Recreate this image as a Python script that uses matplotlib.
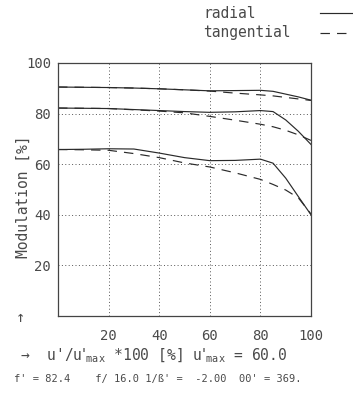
import numpy as np
import matplotlib
matplotlib.use('Agg')
import matplotlib.pyplot as plt

# image height in percent of u'max
x_pos = [0, 10, 20, 30, 40, 50, 60, 70, 80, 85, 90, 95, 100]

# modulation [%], three spatial frequencies
rad_hi = [90.5, 90.4, 90.3, 90.1, 89.8, 89.4, 89.0, 89.1, 89.2, 88.8, 87.7, 86.6, 85.3]
tan_hi = [90.5, 90.4, 90.3, 90.1, 89.8, 89.4, 88.9, 88.1, 87.4, 87.0, 86.4, 85.8, 85.2]
rad_mid = [82.2, 82.1, 82.0, 81.6, 81.2, 80.8, 80.5, 80.7, 81.2, 80.8, 77.5, 73.0, 67.8]
tan_mid = [82.2, 82.1, 82.0, 81.5, 81.0, 80.3, 78.9, 77.4, 75.8, 74.8, 73.4, 71.6, 69.4]
rad_lo = [65.8, 65.9, 66.1, 66.0, 64.4, 62.6, 61.4, 61.5, 62.0, 60.4, 54.5, 47.2, 40.0]
tan_lo = [65.8, 65.7, 65.5, 64.2, 62.6, 60.5, 58.9, 56.6, 54.0, 52.0, 49.8, 46.7, 40.3]

y_ticks = [20, 40, 60, 80, 100]
x_ticks = [20, 40, 60, 80, 100]

plt.rcParams['font.family'] = 'DejaVu Sans Mono'
plt.rcParams['mathtext.fontset'] = 'dejavusans'
txt = '#4a4a4a'
ink = '#2a2a2a'

fig = plt.figure(figsize=(3.53, 3.94), dpi=100)
ax = fig.add_axes([58 / 353, 78 / 394, 253 / 353, 253 / 394])

for r, t in ((rad_hi, tan_hi), (rad_mid, tan_mid), (rad_lo, tan_lo)):
    ax.plot(x_pos, r, color=ink, lw=0.85)
    ax.plot(x_pos, t, color=ink, lw=0.85, dashes=(8, 6))

ax.set_xlim(0, 100)
ax.set_ylim(0, 100)
ax.set_xticks(x_ticks)
ax.set_yticks(y_ticks)
ax.tick_params(length=0, labelsize=10, colors=txt)
ax.tick_params(axis='y', pad=5)
ax.tick_params(axis='x', pad=9)
ax.grid(True, color='#555555', lw=0.7, linestyle=(0, (1, 2.5)))
for s in ax.spines.values():
    s.set_linewidth(0.9)
    s.set_color('#444444')

fig.text(23 / 353, 1 - 197 / 394, 'Modulation [%]', fontsize=10.5, color=txt,
         rotation=90, ha='center', va='center')
fig.text(20 / 353, 1 - 317 / 394, '\u2191', fontsize=11, color=txt,
         ha='center', va='center')

# legend drawn by hand, top right
fig.text(203 / 353, 1 - 13 / 394, 'radial', fontsize=10.5, color=txt, va='center')
fig.text(203 / 353, 1 - 33 / 394, 'tangential', fontsize=10.5, color=txt, va='center')
fig.add_artist(plt.Line2D([320 / 353, 1.0], [1 - 13 / 394] * 2,
                          color=ink, lw=0.85))
fig.add_artist(plt.Line2D([320 / 353, 1.0], [1 - 33 / 394] * 2,
                          color=ink, lw=0.85, dashes=(8, 6)))

fig.text(20 / 353, 1 - 356 / 394,
         "\u2192  u'/u$'_{\\mathregular{max}}$ *100 [%] u$'_{\\mathregular{max}}$ = 60.0",
         fontsize=10.5, color=txt, va='center')
fig.text(14 / 353, 1 - 379 / 394,
         "f' = 82.4    f/ 16.0 1/\u00df' =  -2.00  00' = 369.",
         fontsize=7.5, color=txt, va='center')

fig.savefig('out.png', dpi=100)
